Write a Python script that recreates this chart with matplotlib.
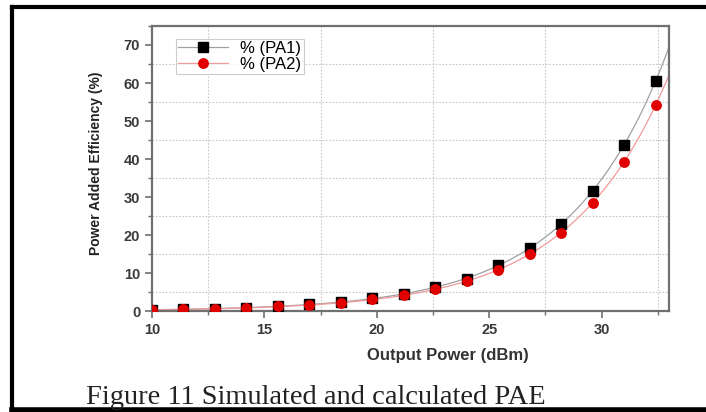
import numpy as np
import matplotlib.pyplot as plt
from matplotlib.lines import Line2D
from matplotlib.ticker import MultipleLocator

# output power sweep (dBm) and PAE (%) of the two amplifiers
pout = [10.0, 11.4, 12.8, 14.2, 15.6, 17.0, 18.4, 19.8, 21.2,
        22.6, 24.0, 25.4, 26.8, 28.2, 29.6, 31.0, 32.4]
pae_pa1 = [0.3, 0.45, 0.6, 0.9, 1.3, 1.75, 2.4, 3.3, 4.5,
           6.3, 8.5, 12.0, 16.6, 22.8, 31.7, 43.6, 60.5]
pae_pa2 = [0.25, 0.4, 0.55, 0.8, 1.2, 1.6, 2.2, 3.1, 4.2,
           5.7, 7.9, 10.8, 14.9, 20.6, 28.5, 39.1, 54.2]
labels = ['% (PA1)', '% (PA2)']

plt.rcParams['font.family'] = ['Liberation Sans', 'DejaVu Sans']

fig = plt.figure(figsize=(7.06, 4.12), dpi=100)
ax = fig.add_axes([0.2153, 0.2451, 0.7323, 0.6918])

# exponential fit y = a*exp(b*x), log-linear with sqrt(y) weights
xs = np.linspace(10, 33, 300)
def expfit(x, y):
    x = np.asarray(x); y = np.asarray(y)
    b, lna = np.polyfit(x, np.log(y), 1, w=np.sqrt(y))
    return np.exp(lna) * np.exp(b * xs)

ax.plot(xs, expfit(pout, pae_pa1), color='#a0a0a0', lw=0.9, zorder=2)
ax.plot(xs, expfit(pout, pae_pa2), color='#f29a9a', lw=0.9, zorder=2)
ax.plot(pout, pae_pa1, 's', color='black', ms=6.8, zorder=3)
ax.plot(pout, pae_pa2, 'o', color='#e00000', ms=6.8, mec='#e00000', zorder=4)

ax.set_xlim(10, 33)
ax.set_ylim(0, 75)
ax.xaxis.set_major_locator(MultipleLocator(5))
ax.xaxis.set_minor_locator(MultipleLocator(2.5))
ax.yaxis.set_major_locator(MultipleLocator(10))
ax.yaxis.set_minor_locator(MultipleLocator(5))
ax.grid(True, which='minor', ls=(0, (1.5, 1.5)), color='#c8c8c8', lw=0.8)

for s in ax.spines.values():
    s.set_color('#707070')
    s.set_linewidth(1.6)
ax.tick_params(which='major', direction='out', length=5, width=1.2,
               color='#707070', labelsize=10.5, labelcolor='#3a3a3a')
ax.tick_params(which='minor', direction='out', length=3, width=1.0,
               color='#707070')
for lab in ax.get_xticklabels() + ax.get_yticklabels():
    lab.set_fontweight('bold')

ax.set_xlabel('Output Power (dBm)', fontsize=12, fontweight='bold',
              color='#333333')
ax.xaxis.set_label_coords(0.573, -0.13)
ax.set_ylabel('Power Added Efficiency (%)', fontsize=10, fontweight='bold',
              color='#222222')
ax.yaxis.set_label_coords(-0.095, 0.52)

handles = [Line2D([], [], color='#a0a0a0', lw=0.9, marker='s', mfc='black',
                  mec='black', ms=6.8),
           Line2D([], [], color='#f29a9a', lw=0.9, marker='o', mfc='#e00000',
                  mec='#e00000', ms=6.8)]
leg = ax.legend(handles, labels, loc='upper left', bbox_to_anchor=(0.03, 0.985),
                fontsize=12, frameon=True, fancybox=False, handlelength=3.0,
                borderpad=0.15, labelspacing=0.05, handletextpad=0.7)
leg.get_frame().set_edgecolor('#c0c0c0')
leg.get_frame().set_linewidth(0.8)

fig.text(0.448, 0.036, 'Figure 11 Simulated and calculated PAE',
         family='Liberation Serif', fontsize=20.5, ha='center', va='center',
         color='#222222')

# page frame
fig.add_artist(Line2D([12 / 706, 1], [1 - 7 / 412, 1 - 7 / 412],
                      transform=fig.transFigure, color='black', lw=3))
fig.add_artist(Line2D([12 / 706, 12 / 706], [0, 1 - 7 / 412],
                      transform=fig.transFigure, color='black', lw=3))
fig.add_artist(Line2D([12 / 706, 1], [2.5 / 412, 2.5 / 412],
                      transform=fig.transFigure, color='black', lw=4))

fig.savefig('out.png', dpi=100)
